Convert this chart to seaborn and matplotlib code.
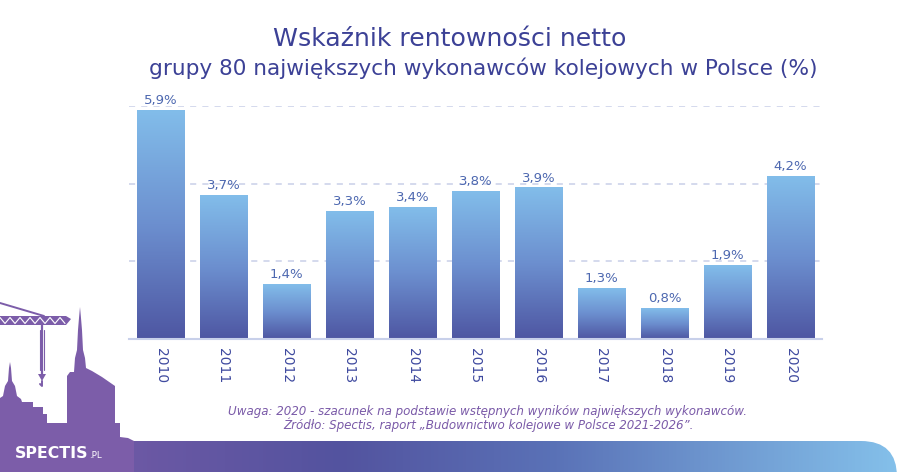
import numpy as np
import pandas as pd
import matplotlib
matplotlib.use("Agg")
import matplotlib.pyplot as plt
import seaborn as sns
from matplotlib.colors import LinearSegmentedColormap
from matplotlib.patches import Polygon, FancyBboxPatch

# ---- data ----
years = ["2010", "2011", "2012", "2013", "2014", "2015", "2016", "2017", "2018", "2019", "2020"]
values = [5.9, 3.7, 1.4, 3.3, 3.4, 3.8, 3.9, 1.3, 0.8, 1.9, 4.2]
value_labels = ["5,9%", "3,7%", "1,4%", "3,3%", "3,4%", "3,8%", "3,9%", "1,3%", "0,8%", "1,9%", "4,2%"]
grid_ticks = [2, 4, 6]
title_line1 = "Wskaźnik rentowności netto"
title_line2 = "grupy 80 największych wykonawców kolejowych w Polsce (%)"
note_line1 = "Uwaga: 2020 - szacunek na podstawie wstępnych wyników największych wykonawców."
note_line2 = "Źródło: Spectis, raport „Budownictwo kolejowe w Polsce 2021-2026”."
logo_main = "SPECTIS"
logo_suffix = ".PL"

# ---- style ----
sns.set_theme(style="white")
plt.rcParams["font.family"] = ["DejaVu Sans"]

W, H = 900, 472
fig = plt.figure(figsize=(W / 100, H / 100), dpi=100)
fig.patch.set_facecolor("white")

# background decoration axes in pixel coordinates
bg = fig.add_axes([0, 0, 1, 1])
bg.set_xlim(0, W)
bg.set_ylim(H, 0)
bg.axis("off")
bg.set_zorder(0)

sil_color = "#7c5da9"

# gradient band at the bottom
band_cmap = LinearSegmentedColormap.from_list(
    "band", [(0.0, sil_color), (0.12, "#6f59a5"), (0.38, "#53539f"), (0.62, "#5a72b7"), (1.0, "#84c0ea")])
band = FancyBboxPatch((0, 441), 897, 80, boxstyle="round,pad=0,rounding_size=36",
                      facecolor="none", edgecolor="none")
bg.add_patch(band)
im = bg.imshow(np.linspace(0, 1, 512).reshape(1, -1), extent=[0, 897, H, 441],
               cmap=band_cmap, aspect="auto", zorder=1)
im.set_clip_path(band)

# city silhouette with crane (left bottom)
silhouette = [
    (0, 472), (0, 398), (3, 396), (5, 386), (8, 381), (9, 368), (10, 362), (11, 368),
    (12, 381), (15, 386), (17, 396), (21, 399), (22, 402), (33, 402), (33, 407), (43, 407),
    (43, 414), (47, 414), (47, 423), (67, 423), (67, 376), (70, 372), (74, 372), (75, 358),
    (77, 350), (78, 330), (79, 318), (80, 307), (81, 318), (82, 330), (83, 350), (85, 358),
    (86, 368), (92, 371), (102, 377), (115, 386), (115, 423), (120, 423), (120, 437),
    (128, 438), (134, 441), (134, 472)]
bg.add_patch(Polygon(silhouette, closed=True, facecolor=sil_color, edgecolor="none", zorder=2))
# crane jib
bg.add_patch(Polygon([(0, 316), (66, 316), (71, 319), (66, 325), (0, 325)], closed=True,
                     facecolor=sil_color, edgecolor="none", zorder=2))
zig_x = np.arange(0, 66, 5)
zig_y = np.where(np.arange(len(zig_x)) % 2 == 0, 317.5, 323.5)
bg.plot(zig_x, zig_y, color="white", lw=0.8, zorder=3)
bg.plot([0, 44], [303, 316], color=sil_color, lw=1.4, zorder=2)
bg.plot([42, 42], [325, 374], color=sil_color, lw=1.6, zorder=2)
bg.plot([40, 40], [330, 370], color=sil_color, lw=0.8, zorder=2)
bg.plot([44, 44], [330, 370], color=sil_color, lw=0.8, zorder=2)
bg.add_patch(Polygon([(38, 374), (46, 374), (42, 381)], closed=True, facecolor=sil_color,
                     edgecolor="none", zorder=2))
bg.plot([42, 42, 40], [381, 386, 384], color=sil_color, lw=1.4, zorder=2)

# logo
t_logo = bg.text(15, 457.5, logo_main, color="white", fontsize=8.5, fontweight="bold",
                 ha="left", va="baseline", zorder=4)
t_pl = bg.text(89, 457.5, logo_suffix, color="white", fontsize=5, ha="left",
               va="baseline", zorder=4)

# ---- main chart ----
ax = fig.add_axes([129 / W, 1 - 338.5 / H, (822 - 129) / W, (338.5 - 106) / H])
ax.set_zorder(2)
ax.patch.set_alpha(0)

df = pd.DataFrame({"year": years, "value": values})
sns.barplot(data=df, x="year", y="value", ax=ax, color="#6a8fd0", saturation=1,
            width=0.755, edgecolor="none")

bar_cmap = LinearSegmentedColormap.from_list("bars", ["#4e56a2", "#6c8fcf", "#82bdea"])
for bar in ax.patches:
    x0, w, h = bar.get_x(), bar.get_width(), bar.get_height()
    gim = ax.imshow(np.linspace(0, 1, 256).reshape(-1, 1), extent=[x0, x0 + w, 0, h],
                    origin="lower", aspect="auto", cmap=bar_cmap, zorder=bar.get_zorder() + 0.5)
    gim.set_clip_path(bar)

ax.set_xlim(-0.5, len(years) - 0.5)
ax.set_ylim(0, 6)
ax.set_yticks(grid_ticks)
ax.set_yticklabels([])
ax.set_axisbelow(True)
ax.yaxis.grid(True, linestyle=(0, (4, 4)), color="#c9d0e8", linewidth=1.1)
ax.xaxis.grid(False)
for s in ["top", "left", "right"]:
    ax.spines[s].set_visible(False)
ax.spines["bottom"].set_color("#c8d0ea")
ax.spines["bottom"].set_linewidth(1.5)
ax.set_xlabel("")
ax.set_ylabel("")
ax.tick_params(axis="y", length=0)
ax.tick_params(axis="x", length=0, pad=7)
ax.set_xticks(range(len(years)))
ax.set_xticklabels(years, rotation=270, color="#3f4a9f", fontsize=10, ha="center", va="top")

ax.bar_label(ax.containers[0], labels=value_labels, padding=2, fontsize=9.5, color="#4d68b0")

# ---- titles and notes ----
title_color = "#3c4196"
t1 = fig.text(449.5 / W, 1 - 46.5 / H, title_line1, ha="center", va="baseline",
              fontsize=15.5, color=title_color)
t2 = fig.text(483 / W, 1 - 75 / H, title_line2, ha="center", va="baseline",
              fontsize=15.5, color=title_color)
note_color = "#7a5aa8"
n1 = fig.text(487.5 / W, 1 - 414.7 / H, note_line1, ha="center", va="baseline",
              fontsize=8.4, color=note_color, style="italic")
n2 = fig.text(488.5 / W, 1 - 429 / H, note_line2, ha="center", va="baseline",
              fontsize=8.4, color=note_color, style="italic")

# fit text widths to the reference layout
renderer = fig.canvas.get_renderer()
def fit(txt, target_px):
    wpx = txt.get_window_extent(renderer).width
    txt.set_fontsize(txt.get_fontsize() * target_px / wpx)

fit(t1, 355)
fit(t2, 668)
fit(n1, 519)
fit(n2, 413)
fit(t_logo, 73)
fit(t_pl, 13)

fig.savefig("out.png", dpi=100, facecolor="white")
